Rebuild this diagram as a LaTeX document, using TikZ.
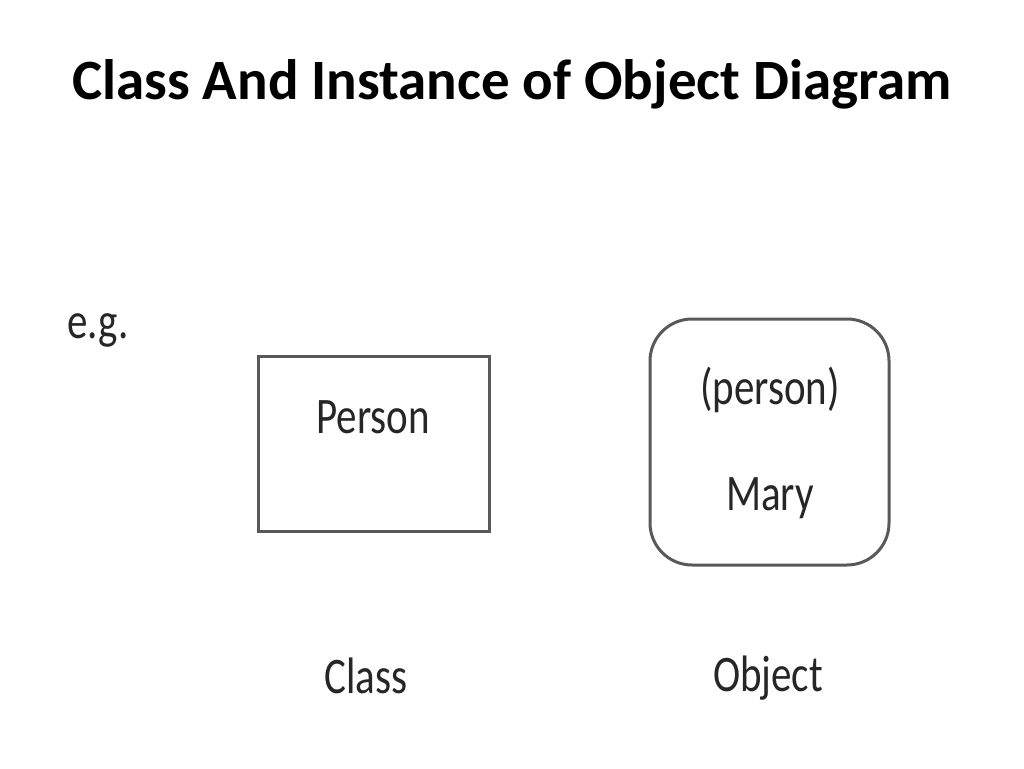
\documentclass[tikz,border=0pt]{standalone}
\usepackage{fontspec}
\setmainfont{Carlito}
\begin{document}
\begin{tikzpicture}[x=1pt,y=-1pt,
  lbl/.style={font=\fontsize{41}{44}\selectfont, text=black!85, yscale=1.25, transform shape},
  boxline/.style={draw=black!65, line width=3pt}]
\useasboundingbox (0,0) rectangle (1024,768);
\node[font=\bfseries\fontsize{57}{60}\selectfont] (title) at (512,84) {Class And Instance of Object Diagram};
\node[lbl] (eg) at (98,330) {e.g.};
\node[boxline, minimum width=231pt, minimum height=175pt] (cls) at (373.5,443.5) {};
\node[lbl] (person) at (373,417) {Person};
\node[boxline, rounded corners=42pt, minimum width=239pt, minimum height=246pt] (obj) at (769.5,442) {};
\node[lbl] (pp) at (770,390) {(person)};
\node[lbl] (mary) at (770,498) {Mary};
\node[lbl] (clsl) at (366,676) {Class};
\node[lbl] (objl) at (768,678) {Object};
\end{tikzpicture}
\end{document}
